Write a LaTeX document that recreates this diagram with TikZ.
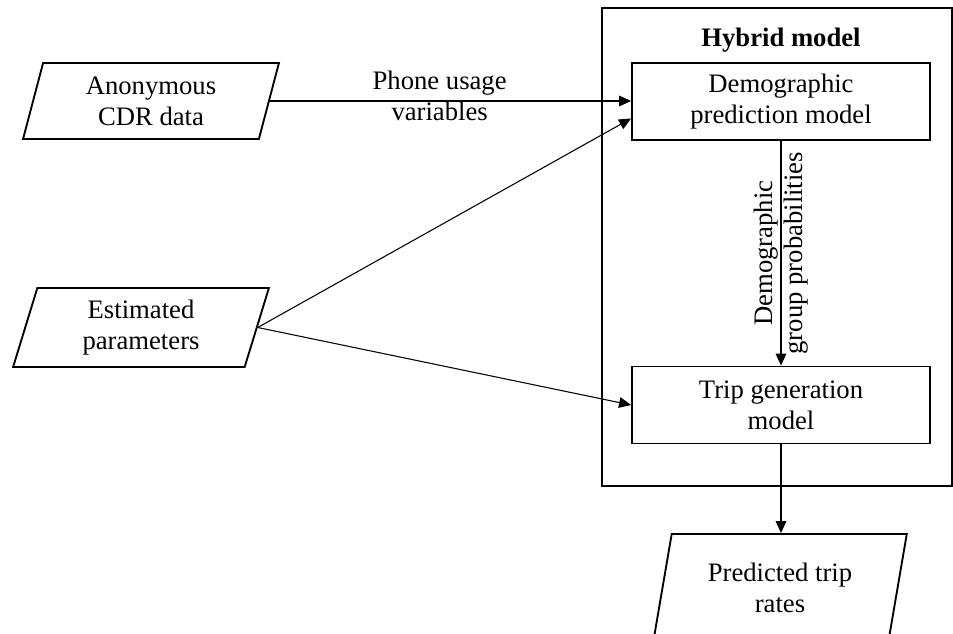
\documentclass[tikz,border=0pt]{standalone}
\usepackage{fontspec}
\setmainfont{Liberation Serif}
\usepackage{tikz}
\usetikzlibrary{arrows.meta, positioning, shapes.geometric, calc}
\newlength\pxu
\setlength\pxu{0.75pt}

\begin{document}
\begin{tikzpicture}[x=0.75pt, y=-0.75pt, >={Triangle[length=9pt, width=8pt]},
    every node/.style={font=\fontsize{20}{23}\selectfont},
    iobox/.style={draw, line width=1.4pt, trapezium, trapezium left angle=76, trapezium right angle=104, trapezium stretches=true, minimum width=256\pxu, minimum height=76\pxu, align=center, inner sep=0pt},
    modelbox/.style={draw, line width=1.4pt, minimum width=298\pxu, minimum height=77\pxu, align=center, inner sep=0pt},
    flow/.style={->, line width=0.8pt}]
    \useasboundingbox (0,0) rectangle (953,634);
    % Hybrid model frame
    \node[draw, line width=1.4pt, minimum width=350\pxu, minimum height=478\pxu, inner sep=0pt] (hybrid) at (777,247) {};
    \node[font=\fontsize{20}{23}\selectfont\bfseries] (title) at (781,40) {Hybrid model};
    \node[modelbox] (demo) at (781,101.5) {Demographic\\prediction model};
    \node[modelbox] (trip) at (781,405) {Trip generation\\model};
    % Inputs and output
    \node[iobox] (cdr) at (151,101) {Anonymous\\CDR data};
    \node[iobox, minimum height=79\pxu] (est) at (141,327.5) {Estimated\\parameters};
    \node[iobox, minimum width=254\pxu, minimum height=108\pxu] (pred) at (780,588) {Predicted trip\\rates};
    % Connectors
    \draw[flow] (cdr.east) -- node[pos=0.47, yshift=4pt, align=center] (phone) {Phone usage\\variables} (cdr.east -| demo.west);
    \draw[flow] (est.east) -- ($(demo.west)!0.43!(demo.south west)$);
    \draw[flow] (est.east) -- (trip.west);
    \draw[flow] (demo.south) -- node[rotate=90, align=center] (probs) {Demographic\\group probabilities} (trip.north);
    \draw[flow] (trip.south) -- (trip.south |- pred.north);
\end{tikzpicture}
\end{document}
